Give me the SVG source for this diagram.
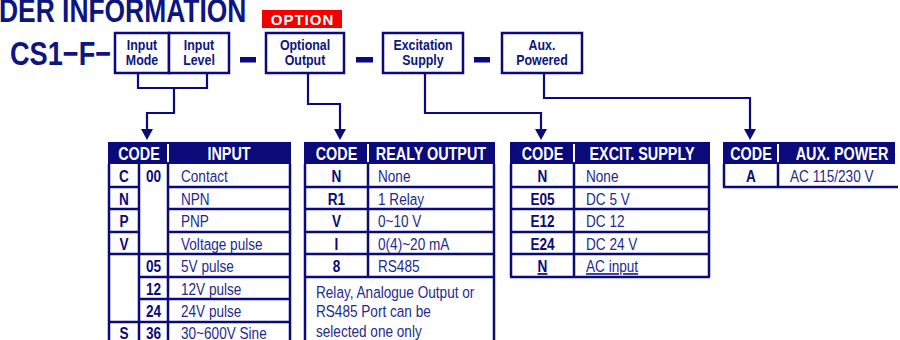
<svg xmlns="http://www.w3.org/2000/svg" width="900" height="340" viewBox="0 0 900 340">
  <style>
    text { font-family: "Liberation Sans", Arial, sans-serif; }
    .title { font-size: 33px; font-weight: bold; fill: #0c1580; }
    .prefix { font-size: 34px; font-weight: bold; fill: #0c1580; }
    .box { fill: #fff; stroke: #0a0a7a; stroke-width: 2.5; }
    .boxlbl { font-size: 15.5px; font-weight: bold; fill: #0c1580; text-anchor: middle; }
    .dash { fill: #0a0a7a; }
    .badge { fill: #f20000; }
    .badgetxt { font-size: 15px; font-weight: bold; fill: #fff; text-anchor: middle; letter-spacing: 1px; }
    .link { fill: none; stroke: #0a0a7a; stroke-width: 2.2; }
    .hdr { fill: #0a0a7a; }
    .hsep { stroke: #fff; stroke-width: 2; }
    .grid { stroke: #0a0a7a; stroke-width: 2.5; fill: none; }
    .htxt { font-size: 18px; font-weight: bold; fill: #fff; text-anchor: middle; }
    .code { font-size: 17px; font-weight: bold; fill: #0a0a7a; text-anchor: middle; }
    .desc { font-size: 17px; fill: #1f2a8f; }
    .ul { text-decoration: underline; }
  </style>
  <defs>
    <marker id="arrow" markerUnits="userSpaceOnUse" markerWidth="11" markerHeight="12" viewBox="0 0 11 12" refX="0" refY="6" orient="auto">
      <path d="M0,0 L11,6 L0,12 z" fill="#0a0a7a"/>
    </marker>
  </defs>

  <!-- heading -->
  <g id="title">
    <g transform="scale(0.8 1)">
      <text class="title" x="-1.25" y="22">DER INFORMATION</text>
    </g>
  </g>

  <g id="option-badge">
    <rect class="badge" x="262" y="10" width="80" height="18"/>
    <text class="badgetxt" x="302.5" y="25">OPTION</text>
  </g>

  <g id="model-prefix">
    <g transform="scale(0.8 1)">
      <text class="prefix" x="12.5" y="65">CS1−F−</text>
    </g>
  </g>

  <!-- code field boxes -->
  <g id="input-mode">
    <rect class="box" x="115" y="33" width="54" height="40"/>
    <g transform="scale(0.8 1)">
      <text class="boxlbl" x="177.5" y="50">Input</text>
      <text class="boxlbl" x="177.5" y="65.5">Mode</text>
    </g>
  </g>
  <g id="input-level">
    <rect class="box" x="169" y="33" width="60" height="40"/>
    <g transform="scale(0.8 1)">
      <text class="boxlbl" x="248.75" y="50">Input</text>
      <text class="boxlbl" x="248.75" y="65.5">Level</text>
    </g>
  </g>
  <rect class="dash" x="240" y="57" width="16" height="5.5"/>
  <g id="optional-output">
    <rect class="box" x="266" y="33" width="78" height="40"/>
    <g transform="scale(0.8 1)">
      <text class="boxlbl" x="381.25" y="50">Optional</text>
      <text class="boxlbl" x="381.25" y="65.5">Output</text>
    </g>
  </g>
  <rect class="dash" x="356" y="57" width="17" height="5.5"/>
  <g id="excitation-supply">
    <rect class="box" x="383" y="33" width="80" height="40"/>
    <g transform="scale(0.8 1)">
      <text class="boxlbl" x="528.75" y="50">Excitation</text>
      <text class="boxlbl" x="528.75" y="65.5">Supply</text>
    </g>
  </g>
  <rect class="dash" x="474" y="57" width="16" height="5.5"/>
  <g id="aux-powered">
    <rect class="box" x="502" y="33" width="80" height="40"/>
    <g transform="scale(0.8 1)">
      <text class="boxlbl" x="677.5" y="50">Aux.</text>
      <text class="boxlbl" x="677.5" y="65.5">Powered</text>
    </g>
  </g>

  <!-- connectors from fields to code tables -->
  <g id="connectors">
    <path class="link" d="M138,73 V88 H207 V73"/>
    <path class="link" d="M174,88 V113 H147 V129" marker-end="url(#arrow)"/>
    <path class="link" d="M308,73 V104 H340 V129" marker-end="url(#arrow)"/>
    <path class="link" d="M425,73 V113 H541 V129" marker-end="url(#arrow)"/>
    <path class="link" d="M544,73 V98 H750 V129" marker-end="url(#arrow)"/>
  </g>

  <!-- INPUT code table -->
  <g id="table-input">
    <rect class="hdr" x="108" y="142" width="183" height="22"/>
    <line class="hsep" x1="168" y1="144" x2="168" y2="162"/>
    <path class="grid" d="M109,164 V340 M139,164 V340 M168,164 V340 M290,164 V340
      M109,187 H139 M168,187 H290
      M109,209 H139 M168,209 H290
      M109,232 H139 M168,232 H290
      M109,254 H290
      M139,277 H290 M139,299 H290
      M109,322 H290"/>
    <g transform="scale(0.8 1)">
      <text class="htxt" x="173.75" y="160">CODE</text>
      <text class="htxt" x="286.25" y="160">INPUT</text>
      <text class="code" x="155" y="182">C</text>
      <text class="code" x="191.9" y="182">00</text>
      <text class="code" x="155" y="205">N</text>
      <text class="code" x="155" y="227">P</text>
      <text class="code" x="155" y="250">V</text>
      <text class="code" x="191.9" y="272">05</text>
      <text class="code" x="191.9" y="295">12</text>
      <text class="code" x="191.9" y="317">24</text>
      <text class="code" x="155" y="339.5">S</text>
      <text class="code" x="191.9" y="339.5">36</text>
      <text class="desc" x="226.25" y="182">Contact</text>
      <text class="desc" x="226.25" y="205">NPN</text>
      <text class="desc" x="226.25" y="227">PNP</text>
      <text class="desc" x="226.25" y="250">Voltage pulse</text>
      <text class="desc" x="226.25" y="272">5V pulse</text>
      <text class="desc" x="226.25" y="295">12V pulse</text>
      <text class="desc" x="226.25" y="317">24V pulse</text>
      <text class="desc" x="226.25" y="339.5">30~600V Sine</text>
    </g>
  </g>

  <!-- REALY OUTPUT code table -->
  <g id="table-output">
    <rect class="hdr" x="304" y="142" width="191" height="22"/>
    <line class="hsep" x1="368" y1="144" x2="368" y2="162"/>
    <path class="grid" d="M305,164 V340 M368,164 V277 M494,164 V340
      M305,187 H494 M305,209 H494 M305,232 H494 M305,254 H494 M305,277 H494"/>
    <g transform="scale(0.8 1)">
      <text class="htxt" x="420.6" y="160">CODE</text>
      <text class="htxt" x="538.75" y="160">REALY OUTPUT</text>
      <text class="code" x="420.6" y="182">N</text>
      <text class="code" x="420.6" y="205">R1</text>
      <text class="code" x="420.6" y="227">V</text>
      <text class="code" x="420.6" y="250">I</text>
      <text class="code" x="420.6" y="272">8</text>
      <text class="desc" x="472.5" y="182">None</text>
      <text class="desc" x="472.5" y="205">1 Relay</text>
      <text class="desc" x="472.5" y="227">0~10 V</text>
      <text class="desc" x="472.5" y="250">0(4)~20 mA</text>
      <text class="desc" x="472.5" y="272">RS485</text>
      <text class="desc" x="395" y="298">Relay, Analogue Output or</text>
      <text class="desc" x="395" y="317">RS485 Port can be</text>
      <text class="desc" x="395" y="337">selected one only</text>
    </g>
  </g>

  <!-- EXCIT. SUPPLY code table -->
  <g id="table-excitation">
    <rect class="hdr" x="510" y="142" width="200" height="22"/>
    <line class="hsep" x1="574" y1="144" x2="574" y2="162"/>
    <path class="grid" d="M511,164 V277 M574,164 V277 M709,164 V277
      M511,187 H709 M511,209 H709 M511,232 H709 M511,254 H709 M510,277 H710"/>
    <g transform="scale(0.8 1)">
      <text class="htxt" x="678.1" y="160">CODE</text>
      <text class="htxt" x="802.5" y="160">EXCIT. SUPPLY</text>
      <text class="code" x="678.1" y="182">N</text>
      <text class="code" x="678.1" y="205">E05</text>
      <text class="code" x="678.1" y="227">E12</text>
      <text class="code" x="678.1" y="250">E24</text>
      <text class="code ul" x="678.1" y="272">N</text>
      <text class="desc" x="732.5" y="182">None</text>
      <text class="desc" x="732.5" y="205">DC 5 V</text>
      <text class="desc" x="732.5" y="227">DC 12</text>
      <text class="desc" x="732.5" y="250">DC 24 V</text>
      <text class="desc ul" x="732.5" y="272">AC input</text>
    </g>
  </g>

  <!-- AUX. POWER code table -->
  <g id="table-aux">
    <rect class="hdr" x="723" y="142" width="172" height="22"/>
    <line class="hsep" x1="778" y1="144" x2="778" y2="162"/>
    <path class="grid" d="M724,164 V187 M778,164 V187 M723,187 H898"/>
    <g transform="scale(0.8 1)">
      <text class="htxt" x="938.75" y="160">CODE</text>
      <text class="htxt" x="1052.5" y="160">AUX. POWER</text>
      <text class="code" x="938.75" y="182">A</text>
      <text class="desc" x="987.5" y="182">AC 115/230 V</text>
    </g>
  </g>
</svg>
